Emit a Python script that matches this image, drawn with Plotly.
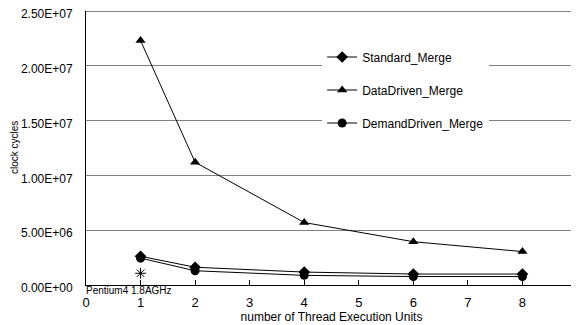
import plotly.graph_objects as go

threads = [1, 2, 4, 6, 8]
standard_merge = [2.62e6, 1.62e6, 1.18e6, 1.0e6, 1.0e6]
datadriven_merge = [2.23e7, 1.12e7, 5.7e6, 3.95e6, 3.05e6]
demanddriven_merge = [2.45e6, 1.3e6, 0.88e6, 0.77e6, 0.77e6]
pentium_x = [1]
pentium_y = [1.07e6]

y_ticks = [0, 5e6, 1e7, 1.5e7, 2e7, 2.5e7]
y_tick_labels = ["0.00E+00", "5.00E+06", "1.00E+07", "1.50E+07", "2.00E+07", "2.50E+07"]
x_ticks = list(range(0, 10))

FONT = "Liberation Sans"

fig = go.Figure()
fig.add_trace(go.Scatter(x=threads, y=standard_merge, name="Standard_Merge",
                         mode="lines+markers", legendgroup="a",
                         line=dict(color="black", width=1),
                         marker=dict(symbol="diamond", size=9, color="black")))
fig.add_trace(go.Scatter(x=threads, y=datadriven_merge, name="DataDriven_Merge",
                         mode="lines+markers", legendgroup="b",
                         line=dict(color="black", width=1),
                         marker=dict(symbol="triangle-up", size=9, color="black")))
fig.add_trace(go.Scatter(x=threads, y=demanddriven_merge, name="DemandDriven_Merge",
                         mode="lines+markers", legendgroup="c",
                         line=dict(color="black", width=1),
                         marker=dict(symbol="circle", size=9, color="black")))
fig.add_trace(go.Scatter(x=pentium_x, y=pentium_y, name="Pentium4", showlegend=False,
                         mode="markers",
                         marker=dict(symbol="asterisk-open", size=9, color="black",
                                     line=dict(color="black", width=1))))

fig.add_annotation(x=0, y=0, xref="x", yref="y", text="Pentium4 1.8AGHz",
                   showarrow=False, xanchor="left", yanchor="top", xshift=-2, yshift=2,
                   font=dict(family=FONT, size=10, color="black"))

fig.add_annotation(x=0, y=0.5, xref="paper", yref="paper", text="clock cycles",
                   showarrow=False, textangle=-90, xanchor="center", yanchor="middle",
                   xshift=-72, font=dict(family=FONT, size=10, color="black"))

# top gridline at the range edge
fig.add_shape(type="line", xref="paper", yref="paper", x0=0, x1=1, y0=0.998, y1=0.998,
              line=dict(color="#808080", width=1), layer="above")

fig.update_layout(
    width=571, height=317,
    margin=dict(l=78, r=2, t=3, b=40),
    paper_bgcolor="white", plot_bgcolor="white",
    font=dict(family=FONT, size=11, color="black"),
    legend=dict(x=0.481, y=0.885, xanchor="left", yanchor="top",
                bgcolor="white", borderwidth=0, itemwidth=30,
                traceorder="grouped", tracegroupgap=14,
                font=dict(family=FONT, size=12, color="black")),
)
fig.update_xaxes(range=[0, 9], tickvals=x_ticks, ticks="inside", ticklen=5,
                 tickcolor="black", showline=True, linecolor="black", linewidth=1,
                 showgrid=False, zeroline=False, ticklabelstandoff=5,
                 automargin=False, tickfont=dict(size=13),
                 title=dict(text="number of Thread Execution Units", standoff=0,
                            font=dict(size=12)))
fig.update_yaxes(range=[0, 2.5e7], tickvals=y_ticks, ticktext=y_tick_labels,
                 ticks="", showline=True, linecolor="black", linewidth=1,
                 showgrid=True, gridcolor="#808080", gridwidth=1, zeroline=False,
                 ticklabelstandoff=10, ticklabelshift=3, ticklabeloverflow="allow",
                 automargin=False, tickfont=dict(size=12))

fig.write_html("out.html")
